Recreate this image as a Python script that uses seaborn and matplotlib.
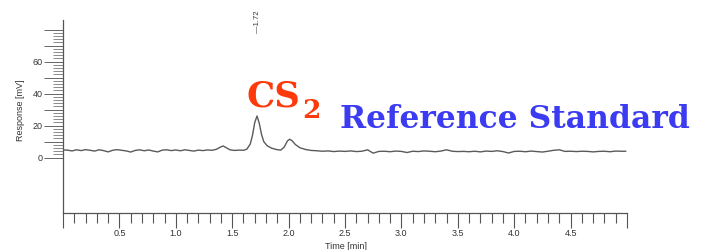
import matplotlib
matplotlib.use("Agg")
import matplotlib.pyplot as plt
import matplotlib.ticker as mticker
import seaborn as sns
import pandas as pd

# ---- data ----
time_min = [0.00,0.04,0.08,0.12,0.16,0.20,0.24,0.28,0.32,0.36,0.40,0.44,0.48,0.52,0.56,0.60,0.64,0.68,
            0.72,0.76,0.80,0.84,0.88,0.92,0.96,1.00,1.04,1.08,1.12,1.16,1.20,1.24,1.28,1.32,1.36,
            1.39,1.42,1.45,1.48,1.52,1.56,1.60,1.63,1.66,1.68,1.70,1.72,1.74,1.76,1.78,1.81,1.85,
            1.89,1.93,1.96,1.99,2.01,2.03,2.06,2.10,2.15,2.20,2.25,
            2.30,2.35,2.40,2.45,2.50,2.55,2.60,2.65,2.70,2.75,2.80,2.85,2.90,2.95,3.00,3.05,3.10,
            3.15,3.20,3.25,3.30,3.35,3.40,3.45,3.50,3.55,3.60,3.65,3.70,3.75,3.80,3.85,3.90,3.95,
            4.00,4.05,4.10,4.15,4.20,4.25,4.30,4.35,4.40,4.45,4.50,4.55,4.60,4.65,4.70,4.75,4.80,
            4.85,4.90,4.95,4.99]
response_mv = [4.8,4.7,4.2,4.9,4.4,5.0,4.6,4.1,4.9,4.4,3.6,4.6,5.0,4.6,4.2,3.5,4.5,4.9,
               4.3,4.8,4.1,3.6,4.7,4.9,4.4,4.8,4.3,4.9,4.5,4.1,4.7,4.4,4.8,4.6,5.2,
               6.4,7.3,6.1,4.9,4.5,4.7,4.6,5.3,8.5,14.0,22.0,26.0,21.5,14.5,10.0,7.4,5.9,
               5.1,4.7,6.5,10.5,11.5,10.6,8.2,6.2,5.1,4.5,4.3,
               4.0,4.2,3.8,4.1,3.9,4.2,3.8,4.0,4.9,2.8,3.9,4.0,3.7,4.1,3.9,3.2,4.0,
               3.8,4.2,4.0,3.7,4.1,4.9,4.0,3.8,3.9,3.7,4.0,3.6,4.1,3.9,4.3,3.8,2.9,
               3.9,4.0,3.7,4.1,3.8,3.5,4.0,4.6,4.9,3.9,4.0,3.8,4.0,3.9,3.6,3.9,4.0,
               3.7,4.1,4.0,4.0]

x_tick_labels = ["0.5", "1.0", "1.5", "2.0", "2.5", "3.0", "3.5", "4.0", "4.5"]
x_tick_values = [0.5, 1.0, 1.5, 2.0, 2.5, 3.0, 3.5, 4.0, 4.5]
y_tick_values = [0, 20, 40, 60]
peak_label = "1.72"
peak_time = 1.72

df = pd.DataFrame({"Time [min]": time_min, "Response [mV]": response_mv})

sns.set_theme(style="white")
plt.rcParams["font.family"] = ["Liberation Sans", "DejaVu Sans"]

W, H = 707, 250
fig = plt.figure(figsize=(W / 100, H / 100), dpi=100)
ax_bottom, ax_top = 212.7, 20.0
ax = fig.add_axes([63 / W, (H - ax_bottom) / H, 564 / W, (ax_bottom - ax_top) / H])

sns.lineplot(data=df, x="Time [min]", y="Response [mV]", ax=ax,
             color="#5a5a5a", linewidth=1.0)

ax.set_xlim(0, 5.0)
ax.set_ylim(-34.4, 86)

for s in ["top", "right"]:
    ax.spines[s].set_visible(False)
for s in ["left", "bottom"]:
    ax.spines[s].set_color("#555555")
    ax.spines[s].set_linewidth(0.9)

# x ticks
xmaj = [0.0] + x_tick_values + [5.0]
ax.xaxis.set_major_locator(mticker.FixedLocator(xmaj))
ax.xaxis.set_major_formatter(mticker.FixedFormatter([""] + x_tick_labels + [""]))
ax.xaxis.set_minor_locator(mticker.MultipleLocator(0.1))
ax.tick_params(axis="x", which="major", direction="out", length=11, width=0.8,
               color="#555555", labelsize=6.5, labelcolor="#333333", pad=1, bottom=True)
ax.tick_params(axis="x", which="minor", direction="out", length=7, width=0.8,
               color="#555555", bottom=True)

# y ticks
ymaj = [0, 10, 20, 30, 40, 50, 60, 70, 80]
ax.yaxis.set_major_locator(mticker.FixedLocator(ymaj))
ax.yaxis.set_major_formatter(mticker.FuncFormatter(
    lambda v, p: f"{int(v)}" if int(v) in y_tick_values else ""))
ax.yaxis.set_minor_locator(mticker.FixedLocator(list(range(0, 81, 2))))
ax.tick_params(axis="y", which="major", direction="out", length=14, width=0.7,
               color="#666666", labelsize=6.5, labelcolor="#333333", pad=0.5, left=True)
ax.tick_params(axis="y", which="minor", direction="out", length=7, width=0.6,
               color="#777777", left=True)

ax.set_xlabel("Time [min]", fontsize=6.5, color="#333333")
ax.xaxis.set_label_coords((346 - 63) / 564, -(242 - ax_bottom) / (ax_bottom - ax_top))
ax.set_ylabel("Response [mV]", fontsize=6.5, color="#333333")
ax.yaxis.set_label_coords(-(63 - 25) / 564, (ax_bottom - 110) / (ax_bottom - ax_top))

# peak retention-time label (reads bottom to top, dash at the bottom)
ax.text(peak_time, (ax_bottom - 33) / (ax_bottom - ax_top), "\u2014" + peak_label,
        transform=ax.get_xaxis_transform(), rotation=90, ha="center", va="bottom",
        fontsize=5.5, color="#333333", clip_on=False)

# titles
serif = ["DejaVu Serif", "Liberation Serif"]
fig.text(246 / W, 1 - 106.7 / H, "CS", fontsize=25.5, fontweight="bold", family=serif,
         color="#ff3a0a", ha="left", va="baseline")
fig.text(302 / W, 1 - 118 / H, "2", fontsize=19, fontweight="bold", family=serif,
         color="#ff3a0a", ha="left", va="baseline")
fig.text(340 / W, 1 - 128.3 / H, "Reference Standard", fontsize=22.6, fontweight="bold",
         family=serif, color="#3b3bf2", ha="left", va="baseline")

fig.savefig("out.png", dpi=100)
